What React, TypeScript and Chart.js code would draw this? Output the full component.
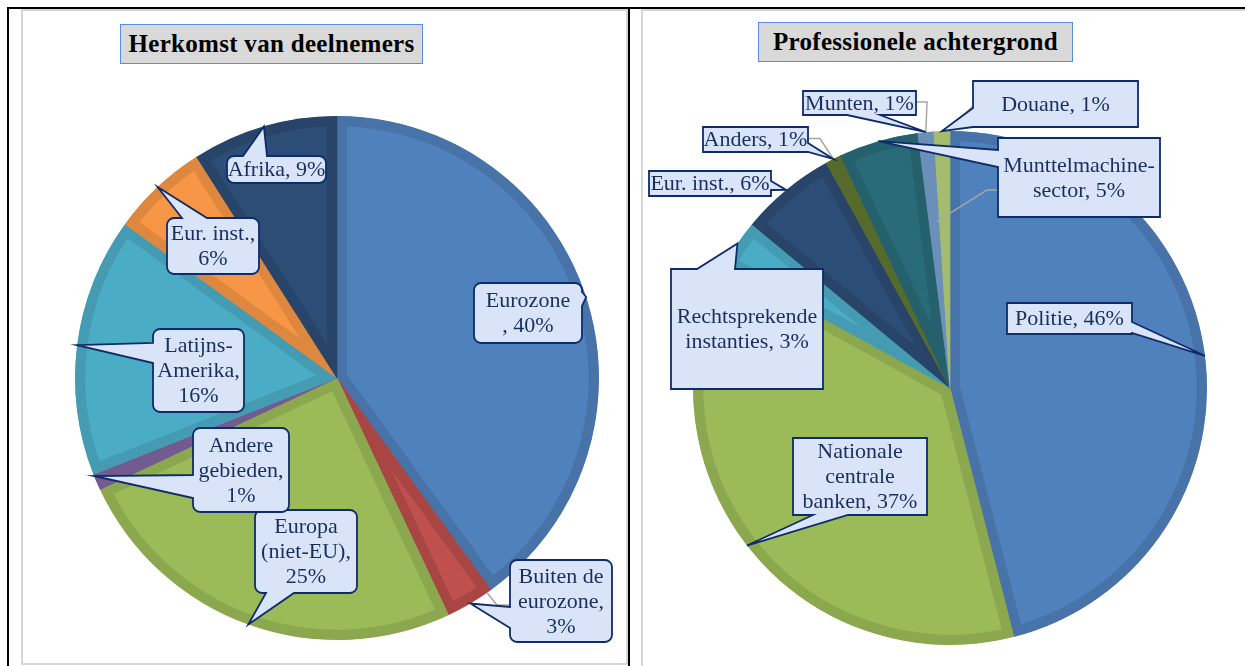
import React, { useEffect, useRef } from 'react';
import { Chart, registerables } from 'chart.js';

Chart.register(...registerables);

// ---------- DATA ----------
const originCategories = ['Eurozone', 'Buiten de eurozone', 'Europa (niet-EU)', 'Andere gebieden', 'Latijns-Amerika', 'Eur. inst.', 'Afrika'];
const originValues = [40, 3, 25, 1, 16, 6, 9];
const originLabelLines = [
  ['Eurozone', ', 40%'],
  ['Buiten de', 'eurozone,', '3%'],
  ['Europa', '(niet-EU),', '25%'],
  ['Andere', 'gebieden,', '1%'],
  ['Latijns-', 'Amerika,', '16%'],
  ['Eur. inst.,', '6%'],
  ['Afrika, 9%'],
];

const backgroundCategories = ['Politie', 'Nationale centrale banken', 'Rechtsprekende instanties', 'Eur. inst.', 'Anders', 'Munttelmachinesector', 'Munten', 'Douane'];
const backgroundValues = [46, 37, 3, 6, 1, 5, 1, 1];
const backgroundLabelLines = [
  ['Politie, 46%'],
  ['Nationale', 'centrale', 'banken, 37%'],
  ['Rechtsprekende', 'instanties, 3%'],
  ['Eur. inst., 6%'],
  ['Anders, 1%'],
  ['Munttelmachine-', 'sector, 5%'],
  ['Munten, 1%'],
  ['Douane, 1%'],
];

// ---------- STYLES ----------
const originFills = ['#4F81BD', '#C0504D', '#9BBB59', '#8064A2', '#4BACC6', '#F79646', '#2C4D75'];
const originBands = ['#4773A9', '#A94643', '#8BA84F', '#735A91', '#449BB2', '#DE873F', '#284569'];
const backgroundFills = ['#4F81BD', '#9BBB59', '#4BACC6', '#2C4D75', '#5F7530', '#2A6B79', '#7396C2', '#A9C274'];
const backgroundBands = ['#4773A9', '#8BA84F', '#449BB2', '#284569', '#566A2B', '#25606D', '#6C8FB9', '#A3BC6E'];

type Edge = 'top' | 'right' | 'bottom' | 'left';
interface Leader { pts: [number, number][]; slice?: number; frac?: number; r?: number }
interface Callout { i: number; dx: number; dy: number; w: number; h: number; edge: Edge; b: [number, number]; frac?: number; leader?: Leader }

// callout layout (relative to pie centre, px)
const originCallouts: Callout[] = [
  { i: 0, dx: 191, dy: -65, w: 108, h: 60, edge: 'right', b: [-21, -7] },
  { i: 1, dx: 224, dy: 223, w: 102, h: 82, edge: 'left', b: [6, 27], leader: { pts: [[-51, 4], [-64, 4]], frac: 0.1 } },
  { i: 2, dx: -31, dy: 173.5, w: 102, h: 83, edge: 'bottom', b: [-40, -12] },
  { i: 3, dx: -96, dy: 92, w: 96, h: 84, edge: 'left', b: [5, 28], frac: 0.9 },
  { i: 4, dx: -138.5, dy: -7.5, w: 91, h: 83, edge: 'left', b: [-27.5, -7.5] },
  { i: 5, dx: -124, dy: -132, w: 92, h: 56, edge: 'top', b: [-31, -6] },
  { i: 6, dx: -60.5, dy: -208.5, w: 99, h: 27, edge: 'top', b: [-33.5, -9.5] },
];

const backgroundCallouts: Callout[] = [
  { i: 0, dx: 119.5, dy: -69.5, w: 125, h: 31, edge: 'right', b: [3.5, 14.5] },
  { i: 1, dx: -90, dy: 88.5, w: 134, h: 77, edge: 'bottom', b: [-47, -12] },
  { i: 2, dx: -203, dy: -59, w: 152, h: 120, edge: 'top', b: [-50, -12] },
  { i: 3, dx: -240, dy: -204.5, w: 122, h: 25, edge: 'right', b: [-2.5, 6.5] },
  { i: 4, dx: -194.5, dy: -248.5, w: 105, h: 25, edge: 'right', b: [3.5, 12.5], leader: { pts: [[52.5, -1], [64.5, -1]] } },
  { i: 5, dx: 129, dy: -210.5, w: 162, h: 79, edge: 'left', b: [-27.5, -10.5], leader: { pts: [[-81, 12.5], [-92, 12.5]], slice: 6, frac: 0.75, r: 0.65 } },
  { i: 6, dx: -90.5, dy: -285, w: 113, h: 24, edge: 'bottom', b: [-12.5, 20.5], leader: { pts: [[56.5, -1], [67.5, -1]] } },
  { i: 7, dx: 105.5, dy: -284, w: 165, h: 46, edge: 'left', b: [4, 23], leader: { pts: [[-82.5, 2], [-90, 9]] } },
];

const LABEL_FONT = '22px "Liberation Serif", "DejaVu Serif", serif';
const LABEL_COLOR = '#182F5E';
const BUBBLE_FILL = '#D9E4F9';
const BUBBLE_STROKE = '#0E2C69';

function bubblePath(ctx: CanvasRenderingContext2D, cx: number, cy: number, w: number, h: number, r: number, edge: Edge, b: [number, number], tip: { x: number; y: number }) {
  const l = cx - w / 2, t = cy - h / 2, rr = l + w, bt = t + h;
  ctx.beginPath();
  ctx.moveTo(l + r, t);
  if (edge === 'top') { ctx.lineTo(cx + b[0], t); ctx.lineTo(tip.x, tip.y); ctx.lineTo(cx + b[1], t); }
  ctx.lineTo(rr - r, t);
  ctx.arcTo(rr, t, rr, t + r, r);
  if (edge === 'right') { ctx.lineTo(rr, cy + b[0]); ctx.lineTo(tip.x, tip.y); ctx.lineTo(rr, cy + b[1]); }
  ctx.lineTo(rr, bt - r);
  ctx.arcTo(rr, bt, rr - r, bt, r);
  if (edge === 'bottom') { ctx.lineTo(cx + b[1], bt); ctx.lineTo(tip.x, tip.y); ctx.lineTo(cx + b[0], bt); }
  ctx.lineTo(l + r, bt);
  ctx.arcTo(l, bt, l, bt - r, r);
  if (edge === 'left') { ctx.lineTo(l, cy + b[1]); ctx.lineTo(tip.x, tip.y); ctx.lineTo(l, cy + b[0]); }
  ctx.lineTo(l, t + r);
  ctx.arcTo(l, t, l + r, t, r);
  ctx.closePath();
}

function makeCalloutPlugin(items: Callout[], lines: string[][], corner: number) {
  return {
    id: 'callouts',
    afterDatasetsDraw(chart: any) {
      const ctx: CanvasRenderingContext2D = chart.ctx;
      const meta = chart.getDatasetMeta(0);
      const tipOf = (idx: number, frac: number, rf: number) => {
        const p = meta.data[idx].getProps(['x', 'y', 'startAngle', 'endAngle', 'outerRadius'], true);
        const a = p.startAngle + (p.endAngle - p.startAngle) * frac;
        return { x: p.x + Math.cos(a) * p.outerRadius * rf, y: p.y + Math.sin(a) * p.outerRadius * rf };
      };
      const c0 = meta.data[0].getProps(['x', 'y'], true);
      ctx.save();
      items.forEach((it) => {
        if (!it.leader) return;
        const cx = c0.x + it.dx, cy = c0.y + it.dy;
        const L = it.leader;
        const tgt = tipOf(L.slice ?? it.i, L.frac ?? (it.frac ?? 0.5), L.r ?? 1);
        ctx.beginPath();
        L.pts.forEach((pt, k) => (k === 0 ? ctx.moveTo(cx + pt[0], cy + pt[1]) : ctx.lineTo(cx + pt[0], cy + pt[1])));
        ctx.lineTo(tgt.x, tgt.y);
        ctx.strokeStyle = '#A6A6A6';
        ctx.lineWidth = 1.5;
        ctx.stroke();
      });
      items.forEach((it) => {
        const cx = c0.x + it.dx, cy = c0.y + it.dy;
        const tip = tipOf(it.i, it.frac ?? 0.5, 1);
        bubblePath(ctx, cx, cy, it.w, it.h, corner, it.edge, it.b, tip);
        ctx.fillStyle = BUBBLE_FILL;
        ctx.fill();
        ctx.lineWidth = 1.8;
        ctx.strokeStyle = BUBBLE_STROKE;
        ctx.lineJoin = 'miter';
        ctx.stroke();
        const ls = lines[it.i];
        ctx.font = LABEL_FONT;
        ctx.fillStyle = LABEL_COLOR;
        ctx.textAlign = 'center';
        ctx.textBaseline = 'middle';
        const lh = 25;
        const y0 = cy - ((ls.length - 1) * lh) / 2 + 1;
        ls.forEach((s, k) => ctx.fillText(s, cx, y0 + k * lh));
      });
      ctx.restore();
    },
  };
}

interface PieProps {
  left: number; top: number; width: number; height: number;
  padding: { left: number; top: number; right: number; bottom: number };
  categories: string[]; values: number[]; fills: string[]; bands: string[];
  callouts: Callout[]; lines: string[][]; corner: number;
}

function PieCanvas(p: PieProps) {
  const ref = useRef<HTMLCanvasElement | null>(null);
  useEffect(() => {
    if (!ref.current) return;
    const chart = new Chart(ref.current, {
      type: 'pie',
      data: {
        labels: p.categories,
        datasets: [{
          data: p.values,
          backgroundColor: p.fills,
          borderColor: p.bands,
          borderWidth: 10,
          borderAlign: 'inner',
        } as any],
      },
      options: {
        responsive: false,
        animation: false,
        events: [],
        layout: { padding: p.padding },
        plugins: { legend: { display: false }, tooltip: { enabled: false }, title: { display: false } },
      },
      plugins: [makeCalloutPlugin(p.callouts, p.lines, p.corner)],
    });
    return () => chart.destroy();
  }, []);
  return (
    <canvas ref={ref} width={p.width} height={p.height}
      style={{ position: 'absolute', left: p.left, top: p.top, width: p.width, height: p.height }} />
  );
}

const titleStyle: React.CSSProperties = {
  position: 'absolute', boxSizing: 'border-box', height: 40, background: '#D9D9D9',
  border: '1px solid #5B8DD8', display: 'flex', alignItems: 'center', justifyContent: 'center',
  fontFamily: '"Liberation Serif", "DejaVu Serif", serif', fontWeight: 'bold', fontSize: 25,
  letterSpacing: 0.3, color: '#000', whiteSpace: 'nowrap',
};

export default function App() {
  return (
    <div style={{ position: 'absolute', left: 0, top: 0, width: 1245, height: 666, overflow: 'hidden', background: '#fff' }}>
      {/* table borders */}
      <div style={{ position: 'absolute', left: 7, top: 7, width: 1238, height: 2, background: '#000' }} />
      <div style={{ position: 'absolute', left: 7, top: 7, width: 2, height: 659, background: '#000' }} />
      <div style={{ position: 'absolute', left: 628, top: 7, width: 2, height: 659, background: '#000' }} />
      {/* chart frames */}
      <div style={{ position: 'absolute', left: 21, top: 9, width: 607, height: 656, boxSizing: 'border-box', border: '2px solid #D6D6D6' }} />
      <div style={{ position: 'absolute', left: 641, top: 9, width: 620, height: 680, boxSizing: 'border-box', border: '2px solid #D6D6D6' }} />

      <PieCanvas left={23} top={11} width={603} height={652}
        padding={{ left: 52, top: 105, right: 27, bottom: 23 }}
        categories={originCategories} values={originValues}
        fills={originFills} bands={originBands}
        callouts={originCallouts} lines={originLabelLines} corner={7} />
      <PieCanvas left={643} top={11} width={602} height={655}
        padding={{ left: 50, top: 120, right: 38, bottom: 21 }}
        categories={backgroundCategories} values={backgroundValues}
        fills={backgroundFills} bands={backgroundBands}
        callouts={backgroundCallouts} lines={backgroundLabelLines} corner={0} />

      <div style={{ ...titleStyle, left: 120, top: 24, width: 303 }}>Herkomst van deelnemers</div>
      <div style={{ ...titleStyle, left: 758, top: 22, width: 315 }}>Professionele achtergrond</div>
    </div>
  );
}
